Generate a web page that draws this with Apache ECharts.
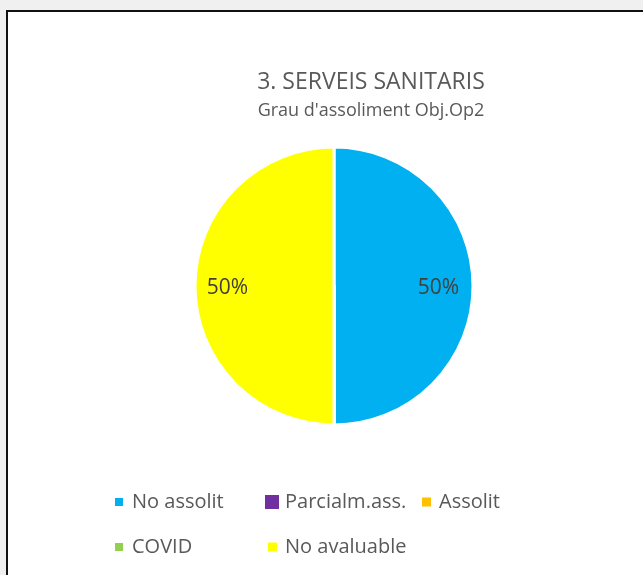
<!DOCTYPE html>
<html><head><meta charset="utf-8">
<script src="https://cdn.jsdelivr.net/npm/echarts@6/dist/echarts.min.js"></script>
<style>
html,body{margin:0;padding:0;background:#f0f0f0;}
#bg{position:absolute;left:6px;top:10px;width:643px;height:575px;background:#fff;border-left:2px solid #111;border-top:2px solid #111;}
#c{position:absolute;left:0;top:0;width:643px;height:575px;}
</style></head>
<body><div id="bg"></div><div id="c"></div>
<script>
const titleText = "3. SERVEIS SANITARIS";
const subtitleText = "Grau d'assoliment Obj.Op2";
const categories = ["No assolit", "Parcialm.ass.", "Assolit", "COVID", "No avaluable"];
const values = [1, 0, 0, 0, 1];
const colors = ["#00B0F0", "#7030A0", "#FFC000", "#92D050", "#FFFF00"];

const FONT = "Open Sans";
const total = values.reduce((a, b) => a + b, 0);
let cum = 0;
const data = categories.map((name, i) => {
  const v = values[i];
  const mid = (90 - 360 * (cum + v / 2) / total) * Math.PI / 180;
  cum += v;
  const k = 33;
  return {
    name, value: v,
    itemStyle: { color: colors[i] },
    label: { offset: [k * Math.cos(mid) - 1, -k * Math.sin(mid) + 2] }
  };
});

const legendPos = [
  { left: 115, top: 492, w: 8, pad: 4 },
  { left: 265, top: 492, w: 14, pad: 1 },
  { left: 422, top: 492, w: 9, pad: 3 },
  { left: 115, top: 537, w: 8, pad: 4 },
  { left: 268, top: 537, w: 9, pad: 3 }
];
const legends = categories.map((name, i) => ({
  data: [name],
  left: legendPos[i].left, top: legendPos[i].top,
  itemWidth: legendPos[i].w, itemHeight: legendPos[i].w,
  itemGap: 0, selectedMode: false, padding: 0,
  icon: 'rect',
  itemStyle: { borderWidth: 0 },
  textStyle: { fontFamily: FONT, fontSize: 20, color: '#595959', padding: [0, 0, 0, legendPos[i].pad] }
}));

const chart = echarts.init(document.getElementById('c'), null, { renderer: 'canvas' });
chart.setOption({
  animation: false,
  title: {
    text: titleText, subtext: subtitleText,
    left: 371, top: 71, textAlign: 'center', itemGap: 8, padding: 0,
    textStyle: { fontFamily: FONT, fontSize: 23, fontWeight: 'normal', color: '#595959' },
    subtextStyle: { fontFamily: FONT, fontSize: 18, color: '#595959' }
  },
  legend: legends,
  series: [{
    type: 'pie',
    center: [334, 286],
    radius: 139,
    startAngle: 90,
    clockwise: true,
    avoidLabelOverlap: false,
    itemStyle: { borderColor: '#fff', borderWidth: 3 },
    label: {
      show: true, position: 'inside',
      fontFamily: FONT, fontSize: 21, color: '#404040',
      formatter: p => p.value ? Math.round(p.percent) + '%' : ''
    },
    labelLine: { show: false },
    emphasis: { disabled: true },
    data
  }]
});
</script></body></html>
